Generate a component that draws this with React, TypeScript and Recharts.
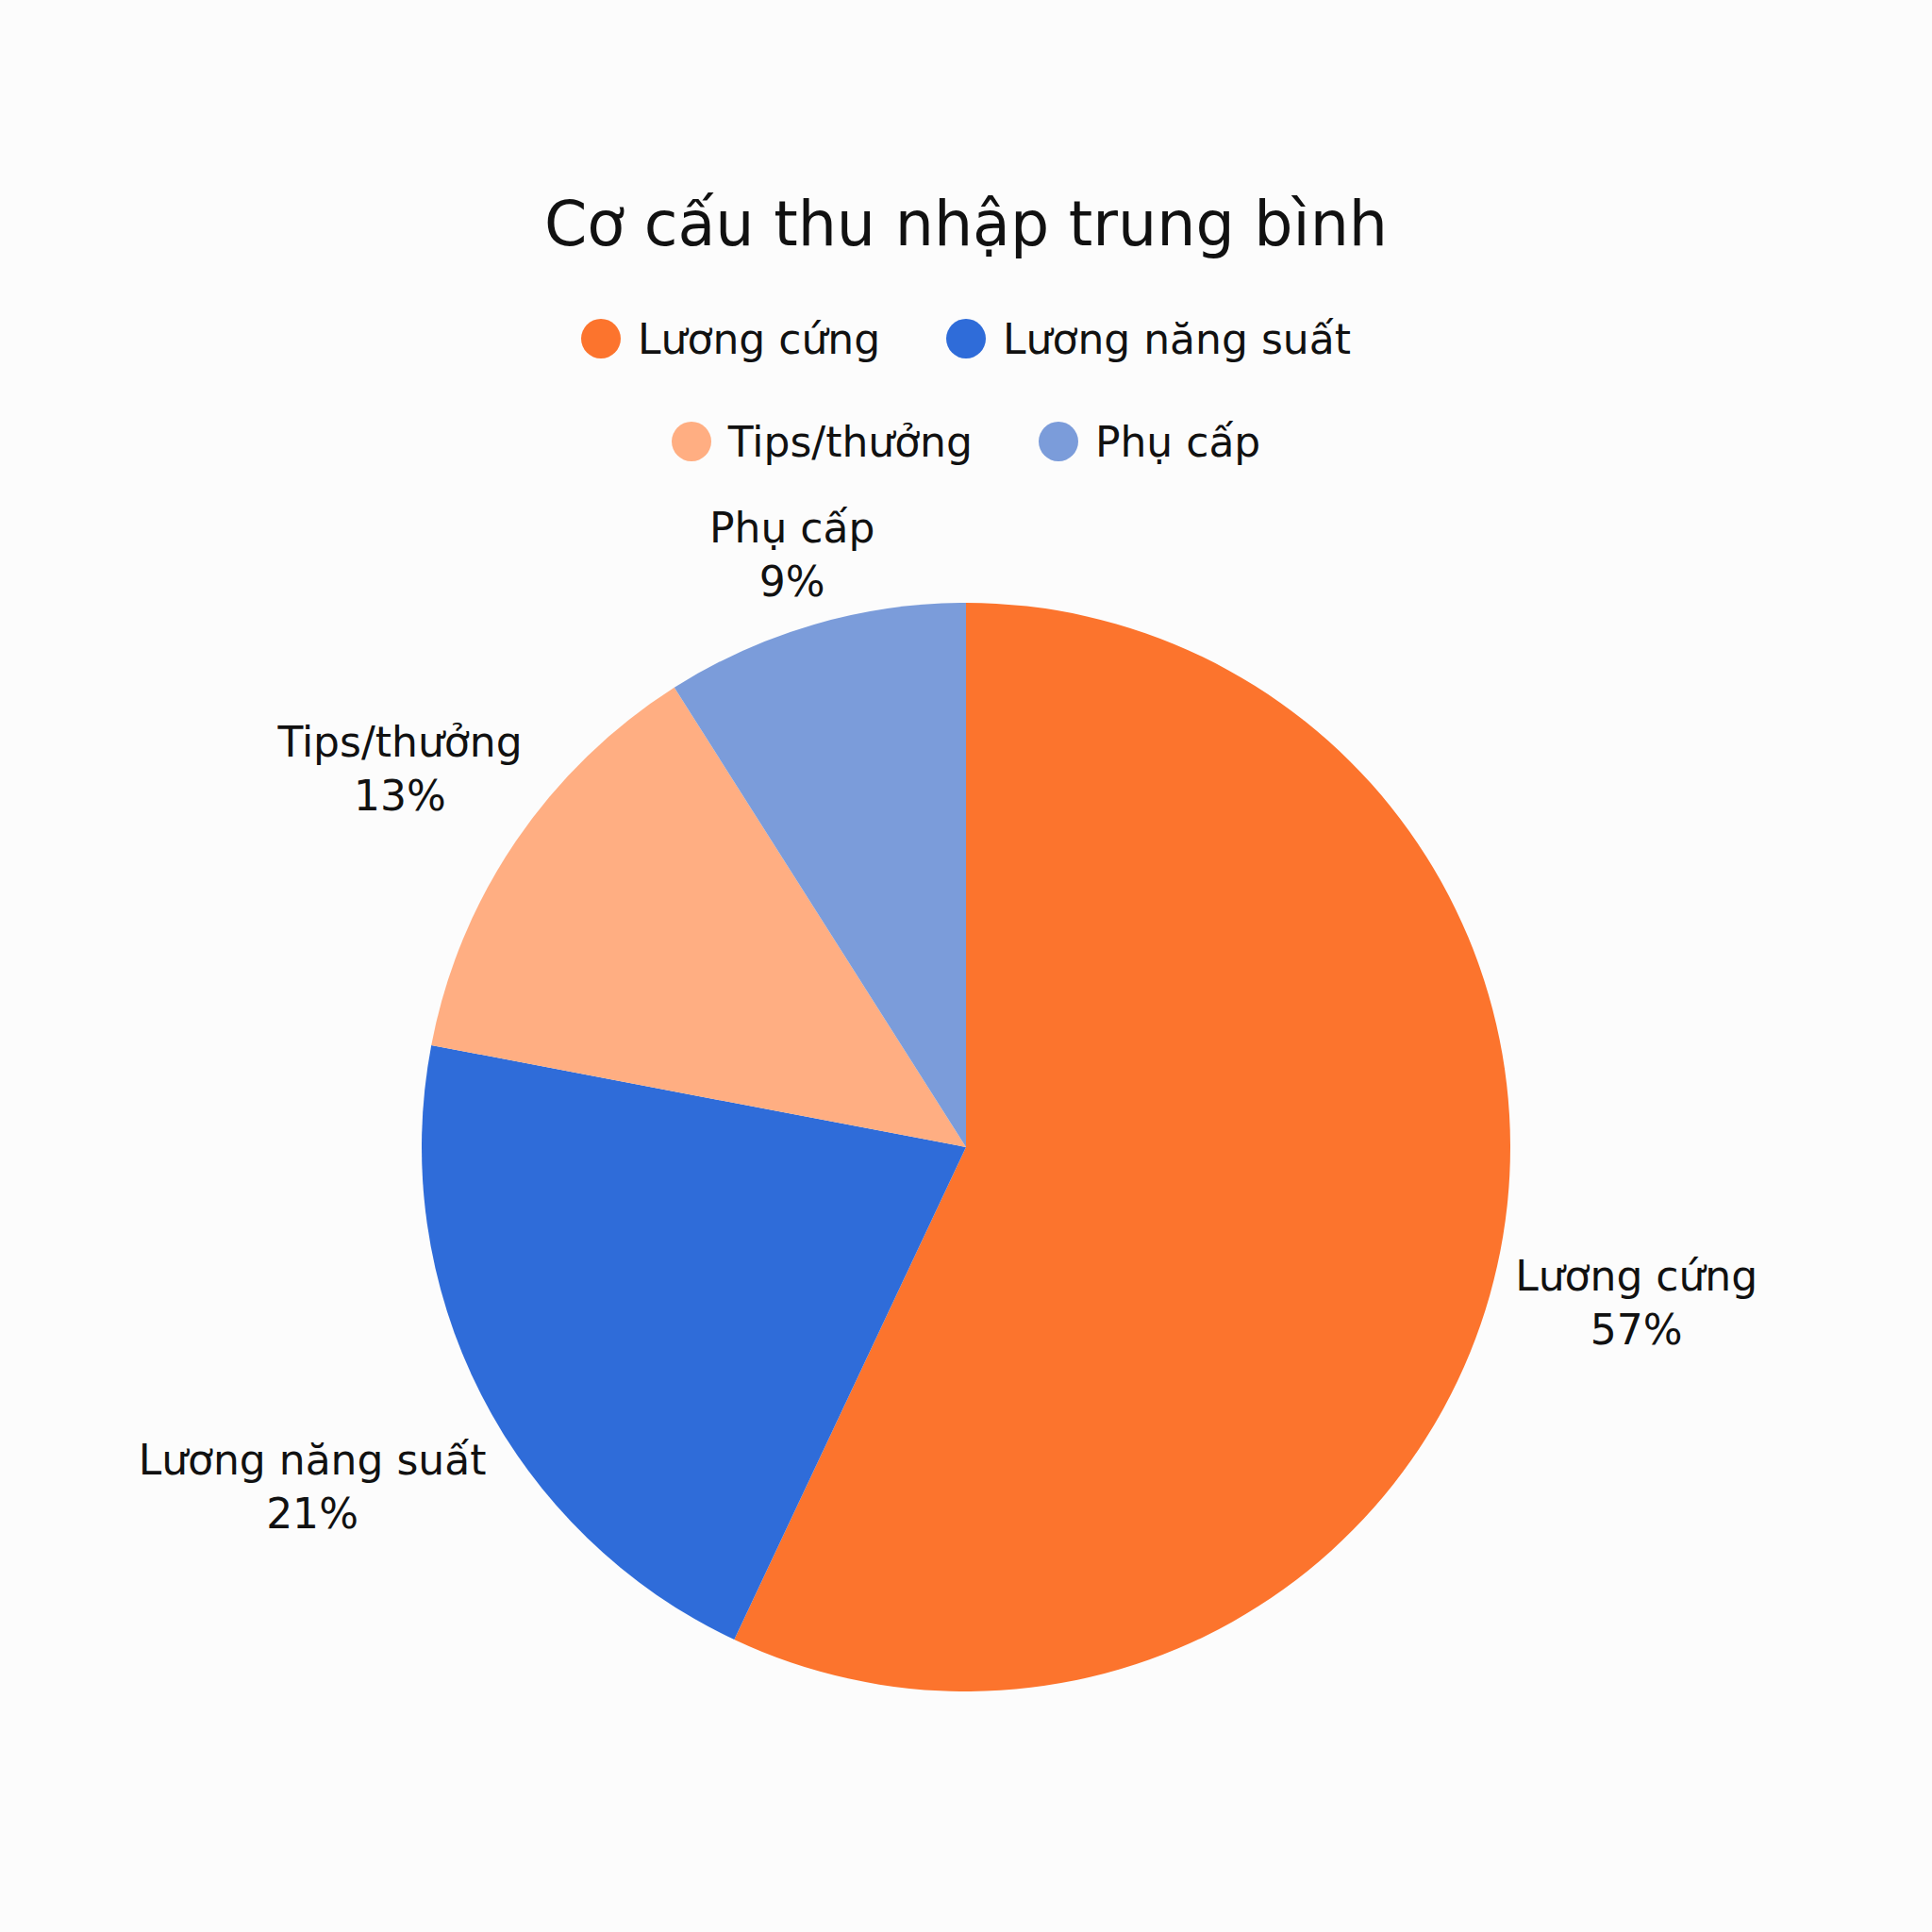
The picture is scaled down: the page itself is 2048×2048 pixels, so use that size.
import { Pie, PieChart, Cell } from 'recharts'

// Cơ cấu thu nhập trung bình — pie, clockwise from 12 o'clock
const CATEGORIES = ['Lương cứng', 'Lương năng suất', 'Tips/thưởng', 'Phụ cấp']
const SHARES = [57, 21, 13, 9]
const COLORS = ['#FC742D', '#2F6CD9', '#FFAE82', '#7B9CDA']

const FONT = '"DejaVu Sans", sans-serif'
const LABEL_SIZE = 44
const RADIAN = Math.PI / 180

let ctx: CanvasRenderingContext2D | null = null
function textWidth(s: string) {
  if (!ctx) ctx = document.createElement('canvas').getContext('2d')
  if (!ctx) return s.length * LABEL_SIZE * 0.6
  ctx.font = `${LABEL_SIZE}px ${FONT}`
  return ctx.measureText(s).width
}

function SliceLabel(props: any) {
  const { cx, cy, midAngle, outerRadius, name, value } = props
  const cos = Math.cos(-midAngle * RADIAN)
  const sin = Math.sin(-midAngle * RADIAN)
  const w = textWidth(name)
  const h = 90
  const dist = outerRadius + 16 + (w / 2) * Math.abs(cos) + (h / 2) * Math.abs(sin)
  const x = cx + dist * cos
  const y = cy + dist * sin + 6
  return (
    <g fontFamily={FONT} fontSize={LABEL_SIZE} fill="#111">
      <text x={x} y={y - 28} textAnchor="middle" dominantBaseline="central">
        {name}
      </text>
      <text x={x} y={y + 29} textAnchor="middle" dominantBaseline="central">
        {value}%
      </text>
    </g>
  )
}

function LegendRows() {
  const items = CATEGORIES.map((name, i) => ({ name, color: COLORS[i] }))
  const rows = [items.slice(0, 2), items.slice(2, 4)]
  return (
    <div
      style={{
        position: 'absolute',
        top: 338,
        left: 0,
        width: 2048,
        display: 'flex',
        flexDirection: 'column',
        alignItems: 'center',
        gap: 67,
      }}
    >
      {rows.map((row, i) => (
        <div key={i} style={{ display: 'flex', gap: 70, height: 42, alignItems: 'center' }}>
          {row.map((it) => (
            <span
              key={it.name}
              style={{ display: 'flex', alignItems: 'center', gap: 18, fontFamily: FONT, fontSize: LABEL_SIZE, color: '#111' }}
            >
              <span style={{ width: 42, height: 42, borderRadius: '50%', background: it.color, display: 'inline-block' }} />
              {it.name}
            </span>
          ))}
        </div>
      ))}
    </div>
  )
}

export default function App() {
  const data = CATEGORIES.map((name, i) => ({ name, value: SHARES[i] }))
  return (
    <div style={{ position: 'absolute', left: 0, top: 0, width: 2048, height: 2048, background: '#FCFCFC' }}>
      <div
        style={{
          position: 'absolute',
          top: 198,
          left: 0,
          width: 2048,
          textAlign: 'center',
          fontFamily: FONT,
          fontSize: 65,
          lineHeight: '80px',
          color: '#111',
        }}
      >
        Cơ cấu thu nhập trung bình
      </div>
      <LegendRows />
      <div style={{ position: 'absolute', left: 0, top: 0 }}>
        <PieChart width={2048} height={2048} margin={{ top: 0, right: 0, bottom: 0, left: 0 }}>
          <Pie
            data={data}
            dataKey="value"
            nameKey="name"
            cx={1024}
            cy={1216}
            outerRadius={577}
            startAngle={90}
            endAngle={-270}
            stroke="none"
            labelLine={false}
            label={SliceLabel}
            isAnimationActive={false}
          >
            {data.map((d, i) => (
              <Cell key={d.name} fill={COLORS[i]} />
            ))}
          </Pie>
        </PieChart>
      </div>
    </div>
  )
}
